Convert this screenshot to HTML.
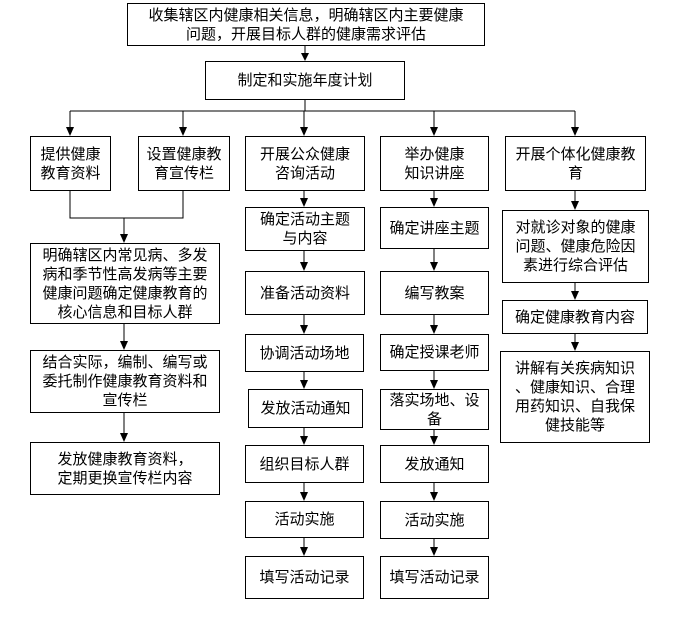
<!DOCTYPE html>
<html><head><meta charset="utf-8"><style>
body{margin:0;width:681px;height:619px;background:#fff;position:relative;overflow:hidden;font-family:"Liberation Sans","Noto Sans CJK SC","WenQuanYi Zen Hei",sans-serif;}
.b{position:absolute;border:1px solid #000;box-sizing:border-box;display:flex;align-items:center;justify-content:center;text-align:center;font-size:15px;line-height:19px;color:#000;background:#fff;}
svg{position:absolute;left:0;top:0;z-index:2;}
</style></head><body>
<div class="b" style="left:127px;top:3px;width:358px;height:43px;">收集辖区内健康相关信息，明确辖区内主要健康<br>问题，开展目标人群的健康需求评估</div>
<div class="b" style="left:205px;top:61px;width:200px;height:39px;">制定和实施年度计划</div>
<div class="b" style="left:30px;top:136px;width:81px;height:55px;">提供健康<br>教育资料</div>
<div class="b" style="left:138px;top:136px;width:92px;height:55px;">设置健康教<br>育宣传栏</div>
<div class="b" style="left:245px;top:136px;width:120px;height:55px;">开展公众健康<br>咨询活动</div>
<div class="b" style="left:380px;top:136px;width:109px;height:55px;">举办健康<br>知识讲座</div>
<div class="b" style="left:505px;top:136px;width:141px;height:55px;">开展个体化健康教<br>育</div>
<div class="b" style="left:30px;top:243px;width:190px;height:81px;">明确辖区内常见病、多发<br>病和季节性高发病等主要<br>健康问题确定健康教育的<br>核心信息和目标人群</div>
<div class="b" style="left:30px;top:350px;width:190px;height:63px;">结合实际，编制、编写或<br>委托制作健康教育资料和<br>宣传栏</div>
<div class="b" style="left:30px;top:442px;width:190px;height:53px;">发放健康教育资料，<br>定期更换宣传栏内容</div>
<div class="b" style="left:245px;top:207px;width:120px;height:44px;">确定活动主题<br>与内容</div>
<div class="b" style="left:245px;top:271px;width:120px;height:44px;">准备活动资料</div>
<div class="b" style="left:245px;top:334px;width:119px;height:38px;">协调活动场地</div>
<div class="b" style="left:248px;top:389px;width:115px;height:39px;">发放活动通知</div>
<div class="b" style="left:245px;top:445px;width:119px;height:38px;">组织目标人群</div>
<div class="b" style="left:245px;top:501px;width:119px;height:37px;">活动实施</div>
<div class="b" style="left:245px;top:556px;width:119px;height:43px;">填写活动记录</div>
<div class="b" style="left:380px;top:207px;width:109px;height:42px;">确定讲座主题</div>
<div class="b" style="left:380px;top:271px;width:109px;height:44px;">编写教案</div>
<div class="b" style="left:380px;top:334px;width:109px;height:37px;">确定授课老师</div>
<div class="b" style="left:380px;top:389px;width:109px;height:41px;">落实场地、设<br>备</div>
<div class="b" style="left:380px;top:445px;width:109px;height:38px;">发放通知</div>
<div class="b" style="left:380px;top:501px;width:109px;height:38px;">活动实施</div>
<div class="b" style="left:380px;top:556px;width:109px;height:43px;">填写活动记录</div>
<div class="b" style="left:502px;top:210px;width:147px;height:73px;">对就诊对象的健康<br>问题、健康危险因<br>素进行综合评估</div>
<div class="b" style="left:502px;top:300px;width:146px;height:34px;">确定健康教育内容</div>
<div class="b" style="left:500px;top:351px;width:150px;height:92px;">讲解有关疾病知识<br>、健康知识、合理<br>用药知识、自我保<br>健技能等</div>
<svg width="681" height="619" viewBox="0 0 681 619">
<g stroke="#000" stroke-width="1" fill="none">
<line x1="305" y1="46" x2="305" y2="55"/>
<line x1="305" y1="100" x2="305" y2="111"/>
<line x1="70" y1="111" x2="575" y2="111"/>
<line x1="70" y1="111" x2="70" y2="128"/>
<line x1="183" y1="111" x2="183" y2="128"/>
<line x1="304" y1="111" x2="304" y2="128"/>
<line x1="434" y1="111" x2="434" y2="128"/>
<line x1="575" y1="111" x2="575" y2="128"/>
<polyline points="70,191 70,218 183,218 183,191"/>
<line x1="124" y1="218" x2="124" y2="235"/>
<line x1="124" y1="324" x2="124" y2="342"/>
<line x1="124" y1="413" x2="124" y2="434"/>
<line x1="304" y1="191" x2="304" y2="199"/>
<line x1="304" y1="251" x2="304" y2="263"/>
<line x1="304" y1="315" x2="304" y2="326"/>
<line x1="304" y1="372" x2="304" y2="381"/>
<line x1="304" y1="428" x2="304" y2="437"/>
<line x1="304" y1="483" x2="304" y2="493"/>
<line x1="304" y1="538" x2="304" y2="548"/>
<line x1="434" y1="191" x2="434" y2="199"/>
<line x1="434" y1="249" x2="434" y2="263"/>
<line x1="434" y1="315" x2="434" y2="326"/>
<line x1="434" y1="371" x2="434" y2="381"/>
<line x1="434" y1="430" x2="434" y2="437"/>
<line x1="434" y1="483" x2="434" y2="493"/>
<line x1="434" y1="539" x2="434" y2="548"/>
<line x1="575" y1="191" x2="575" y2="202"/>
<line x1="575" y1="283" x2="575" y2="292"/>
<line x1="575" y1="334" x2="575" y2="343"/>
</g>
<g fill="#000">
<path d="M301,53h8l-4,8z"/>
<path d="M66,127h8l-4,9z"/><path d="M179,127h8l-4,9z"/><path d="M300,127h8l-4,9z"/><path d="M430,127h8l-4,9z"/><path d="M571,127h8l-4,9z"/>
<path d="M120,234h8l-4,9z"/><path d="M120,341h8l-4,9z"/><path d="M120,433h8l-4,9z"/>
<path d="M300,198h8l-4,9z"/><path d="M300,262h8l-4,9z"/><path d="M300,325h8l-4,9z"/><path d="M300,380h8l-4,9z"/><path d="M300,436h8l-4,9z"/><path d="M300,492h8l-4,9z"/><path d="M300,547h8l-4,9z"/>
<path d="M430,198h8l-4,9z"/><path d="M430,262h8l-4,9z"/><path d="M430,325h8l-4,9z"/><path d="M430,380h8l-4,9z"/><path d="M430,436h8l-4,9z"/><path d="M430,492h8l-4,9z"/><path d="M430,547h8l-4,9z"/>
<path d="M571,201h8l-4,9z"/><path d="M571,291h8l-4,9z"/><path d="M571,342h8l-4,9z"/>
</g></svg>
</body></html>
